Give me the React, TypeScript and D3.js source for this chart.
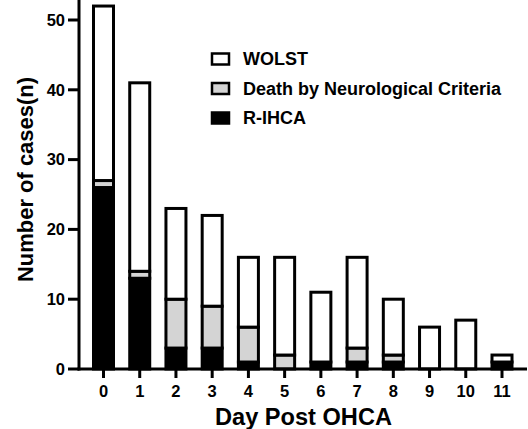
import React from "react";
import * as d3 from "d3";

const days = ["0", "1", "2", "3", "4", "5", "6", "7", "8", "9", "10", "11"];
const rIHCA = [26, 13, 3, 3, 1, 0, 1, 1, 1, 0, 0, 1];
const dnc = [1, 1, 7, 6, 5, 2, 0, 2, 1, 0, 0, 0];
const wolst = [25, 27, 13, 13, 10, 14, 10, 13, 8, 6, 7, 1];
const yTicks = [0, 10, 20, 30, 40, 50];
const seriesNames = ["WOLST", "Death by Neurological Criteria", "R-IHCA"];
const seriesColors = ["#ffffff", "#d4d4d4", "#000000"];

export default function App() {
  const W = 528, H = 429;
  const x0 = 79, yBase = 369;
  const y = d3.scaleLinear().domain([0, 50]).range([yBase, 20]);
  const x = d3.scalePoint().domain(days).range([103.5, 502]);
  const bw = 20;
  const font = "'Liberation Sans', Arial, sans-serif";
  const stacks = [rIHCA, dnc, wolst];
  const colors = [seriesColors[2], seriesColors[1], seriesColors[0]];
  return (
    <svg width={W} height={H} style={{ position: "absolute", left: 0, top: 0 }}>
      <rect width={W} height={H} fill="#fff" />
      {days.map((d, i) => {
        let acc = 0;
        return (
          <g key={d}>
            {stacks.map((s, k) => {
              const v = s[i];
              const y0 = acc;
              acc += v;
              if (v === 0) return null;
              return (
                <rect key={k} x={x(d)! - bw / 2} width={bw} y={y(acc)} height={y(y0) - y(acc)}
                  fill={colors[k]} stroke="#000" strokeWidth={3} />
              );
            })}
          </g>
        );
      })}
      <line x1={x0} x2={x0} y1={0} y2={yBase + 1.5} stroke="#000" strokeWidth={3} />
      <line x1={x0 - 1.5} x2={527} y1={yBase} y2={yBase} stroke="#000" strokeWidth={3} />
      {yTicks.map((t) => (
        <g key={t}>
          <line x1={x0 - 11} x2={x0} y1={y(t)} y2={y(t)} stroke="#000" strokeWidth={3} />
          <text x={x0 - 14} y={y(t)} dy="0.35em" textAnchor="end" fontFamily={font} fontWeight="bold" fontSize={16.5}>{t}</text>
        </g>
      ))}
      {days.map((d) => (
        <g key={d}>
          <line x1={x(d)!} x2={x(d)!} y1={yBase} y2={yBase + 9} stroke="#000" strokeWidth={3} />
          <text x={x(d)!} y={397} textAnchor="middle" fontFamily={font} fontWeight="bold" fontSize={16.5}>{d}</text>
        </g>
      ))}
      <text x={215} y={425} textLength={177} lengthAdjust="spacingAndGlyphs" fontFamily={font} fontWeight="bold" fontSize={23}>Day Post OHCA</text>
      <text transform={`translate(33,282) rotate(-90)`} textLength={205} lengthAdjust="spacingAndGlyphs" fontFamily={font} fontWeight="bold" fontSize={22.5}>Number of cases(n)</text>
      {seriesNames.map((n, i) => (
        <g key={n} transform={`translate(212,${53.5 + i * 29.5})`}>
          <rect x={0} y={0} width={17} height={11} fill={seriesColors[i]} stroke="#000" strokeWidth={2.5} />
          <text x={31} y={5.5} dy="0.36em" fontFamily={font} fontWeight="bold" fontSize={18}>{n}</text>
        </g>
      ))}
    </svg>
  );
}
